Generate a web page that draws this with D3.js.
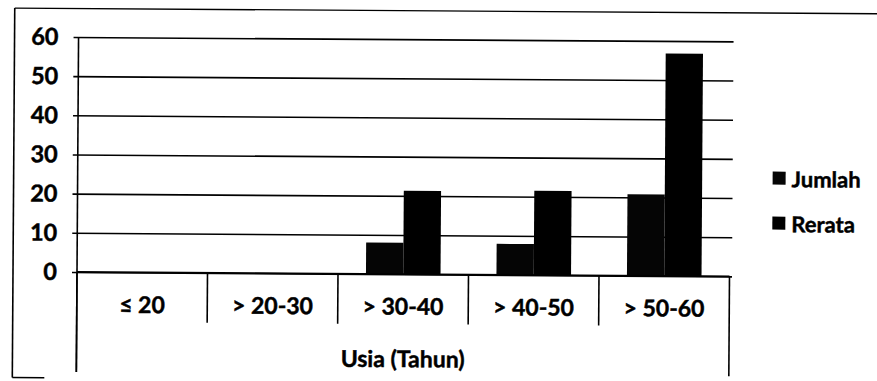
<!DOCTYPE html>
<html>
<head>
<meta charset="utf-8">
<script src="https://cdn.jsdelivr.net/npm/d3@7"></script>
<style>
  html, body { margin: 0; padding: 0; background: #fff; }
  svg { display: block; font-family: Lato, "Open Sans", sans-serif; font-weight: bold; }
  svg text { stroke: #000; stroke-width: 0.45px; }
</style>
</head>
<body>
<svg id="chart" width="877" height="381"></svg>
<script>
// Data
const categories = ["\u2264 20", "> 20-30", "> 30-40", "> 40-50", "> 50-60"];
const seriesNames = ["Jumlah", "Rerata"];
const jumlah = [0, 0, 8, 7.9, 20.8];
const rerata = [0, 0, 21.3, 21.5, 56.8];
const yTicks = [0, 10, 20, 30, 40, 50, 60];
const xTitle = "Usia (Tahun)";

const seriesColors = ["#050505", "#000000"];

const svg = d3.select("#chart");

// the scan is slightly rotated; rotate everything around the plot's bottom-left corner
const root = svg.append("g").attr("transform", "rotate(0.38, 77, 272)");

const plot = { left: 77, right: 729.5, top: 37, bottom: 272 };

const y = d3.scaleLinear().domain([0, 60]).range([plot.bottom, plot.top]);
const x0 = d3.scaleBand().domain(categories).range([plot.left, plot.right]);
// Excel style gap width 150%
const x1 = d3.scaleBand().domain(seriesNames).range([0, x0.bandwidth()])
  .paddingInner(0).paddingOuter(0.75);

const rows = categories.map((c, i) => ({ cat: c, values: [jumlah[i], rerata[i]] }));

// outer border (only top and left survive in the scan)
root.append("line").attr("x1", 13).attr("x2", 876).attr("y1", 8.5).attr("y2", 8.5)
  .attr("stroke", "#000").attr("stroke-width", 1.4);
root.append("line").attr("x1", 13).attr("x2", 13).attr("y1", 8.5).attr("y2", 378)
  .attr("stroke", "#000").attr("stroke-width", 1.6);
root.append("line").attr("x1", 13).attr("x2", 45).attr("y1", 378).attr("y2", 378)
  .attr("stroke", "#000").attr("stroke-width", 1.4);

// gridlines + y labels
const yAxis = root.append("g")
  .attr("transform", `translate(${plot.left},0)`)
  .call(d3.axisLeft(y).tickValues(yTicks).tickSizeInner(-(732 - plot.left)).tickSizeOuter(0).tickPadding(20));
yAxis.select(".domain").remove();
yAxis.selectAll(".tick line")
  .attr("x1", -5)
  .attr("stroke", "#000")
  .attr("stroke-width", 1.6);
yAxis.selectAll(".tick text")
  .attr("fill", "#000")
  .attr("font-size", 23.5)
  .attr("font-family", "Lato, sans-serif")
  .attr("font-weight", "bold");

// bars
const groups = root.append("g").selectAll("g")
  .data(rows)
  .join("g")
  .attr("transform", d => `translate(${x0(d.cat)},0)`);

groups.selectAll("rect")
  .data(d => d.values.map((v, i) => ({ name: seriesNames[i], value: v, i })))
  .join("rect")
  .attr("x", d => x1(d.name))
  .attr("width", x1.bandwidth())
  .attr("y", d => y(d.value))
  .attr("height", d => y(0) - y(d.value))
  .attr("fill", d => seriesColors[d.i]);

// y axis line, running down through the category box
root.append("line")
  .attr("x1", plot.left).attr("x2", plot.left)
  .attr("y1", y(60)).attr("y2", 372)
  .attr("stroke", "#000").attr("stroke-width", 1.6);

// x axis line
root.append("line")
  .attr("x1", plot.left).attr("x2", plot.right)
  .attr("y1", y(0)).attr("y2", y(0))
  .attr("stroke", "#000").attr("stroke-width", 1.8);

// category separators
const bounds = categories.map(c => x0(c)).concat([plot.right]);
root.append("g").selectAll("line")
  .data(bounds)
  .join("line")
  .attr("x1", d => d).attr("x2", d => d)
  .attr("y1", y(0))
  .attr("y2", (d, i) => (i === 0 || i === bounds.length - 1) ? 372 : 322)
  .attr("stroke", "#000").attr("stroke-width", 1.6);

// category labels
root.append("g").selectAll("text")
  .data(categories)
  .join("text")
  .attr("x", d => x0(d) + x0.bandwidth() / 2)
  .attr("y", 312.5)
  .attr("text-anchor", "middle")
  .attr("font-size", 23)
  .attr("fill", "#000")
  .text(d => d);

// axis title
root.append("text")
  .attr("x", (plot.left + plot.right) / 2)
  .attr("y", 365)
  .attr("text-anchor", "middle")
  .attr("font-size", 23)
  .attr("fill", "#000")
  .text(xTitle);

// legend
const legend = root.append("g").attr("transform", "translate(772,167)");
const item = legend.selectAll("g")
  .data(seriesNames)
  .join("g")
  .attr("transform", (d, i) => `translate(0,${i * 45})`);
item.append("rect")
  .attr("width", 13).attr("height", 13)
  .attr("fill", (d, i) => seriesColors[i]);
item.append("text")
  .attr("x", 19)
  .attr("y", 15.5)
  .attr("font-size", 22)
  .attr("fill", "#000")
  .text(d => d);
</script>
</body>
</html>
